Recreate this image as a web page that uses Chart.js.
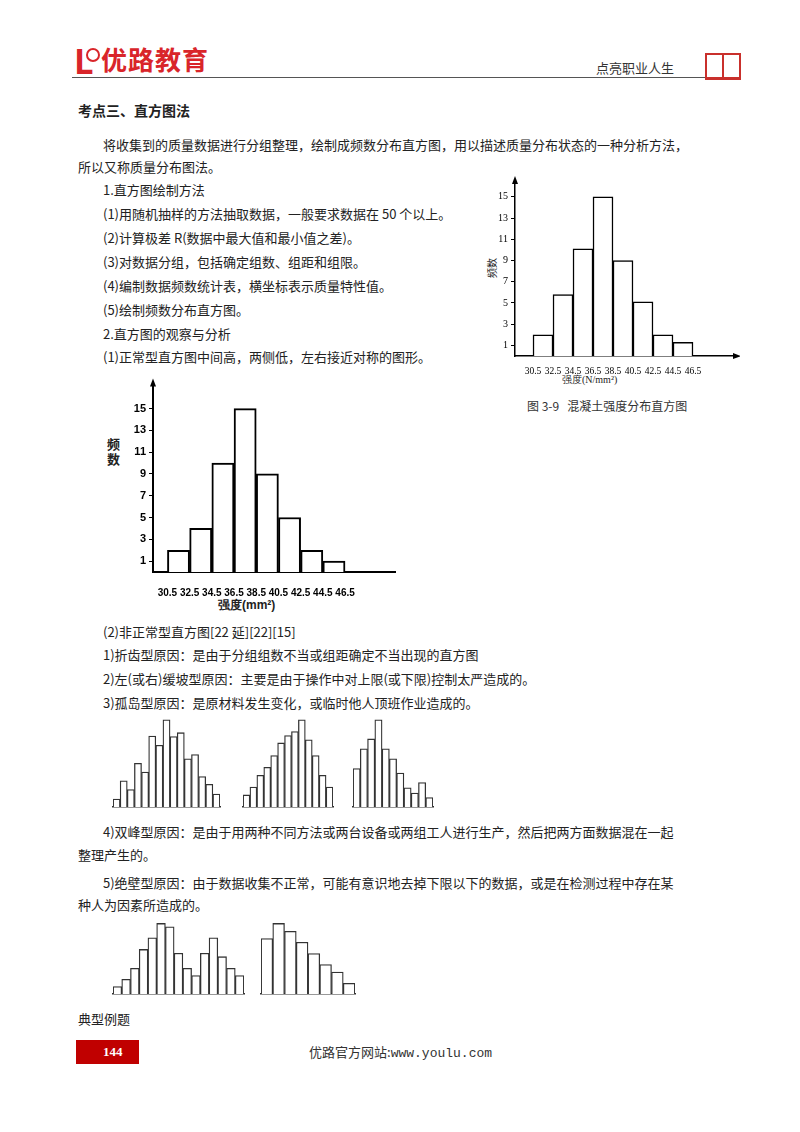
<!DOCTYPE html>
<html>
<head>
<meta charset="utf-8">
<script src="https://cdn.jsdelivr.net/npm/chart.js@4"></script>
<style>
body { margin: 0; background: #fff; font-family: "Noto Sans CJK SC", sans-serif; color: #222; }
#page { position: relative; width: 800px; height: 1132px; overflow: hidden; }
.t { position: absolute; font-size: 13px; line-height: 16px; white-space: nowrap; }
.box { position: absolute; }
</style>
</head>
<body>
<div id="page">
  <!-- header -->
  <div class="t" style="left:74px;top:42px;font-size:34px;line-height:36px;color:#d9252a;font-weight:bold;">L</div>
  <div class="box" style="left:86px;top:48px;width:10px;height:10px;border-radius:50%;border:2px solid #d9252a;"></div>
  <div class="t" style="left:101px;top:44px;font-size:26px;line-height:30px;color:#d9252a;font-weight:bold;letter-spacing:1px;">优路教育</div>
  <div class="box" style="left:72px;top:77px;width:660px;height:1px;background:#555;"></div>
  <div class="t" style="left:596px;top:60px;font-size:13px;color:#333;">点亮职业人生</div>
  <div class="box" style="left:705px;top:53px;width:15px;height:22px;border:2px solid #c9302c;border-bottom-width:3px;"></div>
  <div class="box" style="left:722px;top:53px;width:15px;height:22px;border:2px solid #c9302c;border-bottom-width:3px;"></div>

  <div class="t" style="left:78px;top:102px;font-weight:bold;font-size:14px;">考点三、直方图法</div>
  <div class="t" style="left:103px;top:137px;">将收集到的质量数据进行分组整理，绘制成频数分布直方图，用以描述质量分布状态的一种分析方法，</div>
  <div class="t" style="left:78px;top:159px;">所以又称质量分布图法。</div>
  <div class="t" style="left:103px;top:182px;">1.直方图绘制方法</div>
  <div class="t" style="left:103px;top:206px;">(1)用随机抽样的方法抽取数据，一般要求数据在 50 个以上。</div>
  <div class="t" style="left:103px;top:230px;">(2)计算极差 R(数据中最大值和最小值之差)。</div>
  <div class="t" style="left:103px;top:254px;">(3)对数据分组，包括确定组数、组距和组限。</div>
  <div class="t" style="left:103px;top:278px;">(4)编制数据频数统计表，横坐标表示质量特性值。</div>
  <div class="t" style="left:103px;top:302px;">(5)绘制频数分布直方图。</div>
  <div class="t" style="left:103px;top:326px;">2.直方图的观察与分析</div>
  <div class="t" style="left:103px;top:349px;">(1)正常型直方图中间高，两侧低，左右接近对称的图形。</div>

  <!-- right chart labels -->
  <div class="t" style="left:482px;top:263px;font-size:10px;line-height:10px;transform:rotate(-90deg);">频数</div>
  <div class="t" style="left:562px;top:374px;font-size:10px;line-height:12px;font-family:'Liberation Serif',serif;">强度(N/mm²)</div>
  <div class="t" style="left:527px;top:398px;font-size:12px;color:#333;">图 3-9&nbsp;&nbsp;&nbsp;混凝土强度分布直方图</div>

  <!-- main chart labels -->
  <div class="t" style="left:107px;top:436px;font-size:13px;line-height:15px;font-weight:bold;width:14px;white-space:normal;">频数</div>
  <div class="t" style="left:218px;top:597px;font-size:12px;font-weight:bold;font-family:'Liberation Sans',sans-serif;">强度(mm²)</div>

  <div class="t" style="left:103px;top:624px;">(2)非正常型直方图[22 延][22][15]</div>
  <div class="t" style="left:103px;top:647px;">1)折齿型原因：是由于分组组数不当或组距确定不当出现的直方图</div>
  <div class="t" style="left:103px;top:671px;">2)左(或右)缓坡型原因：主要是由于操作中对上限(或下限)控制太严造成的。</div>
  <div class="t" style="left:103px;top:695px;">3)孤岛型原因：是原材料发生变化，或临时他人顶班作业造成的。</div>
  <div class="t" style="left:103px;top:824px;">4)双峰型原因：是由于用两种不同方法或两台设备或两组工人进行生产，然后把两方面数据混在一起</div>
  <div class="t" style="left:78px;top:847px;">整理产生的。</div>
  <div class="t" style="left:103px;top:875px;">5)绝壁型原因：由于数据收集不正常，可能有意识地去掉下限以下的数据，或是在检测过程中存在某</div>
  <div class="t" style="left:78px;top:897px;">种人为因素所造成的。</div>
  <div class="t" style="left:78px;top:1011px;">典型例题</div>

  <!-- footer -->
  <div class="box" style="left:76px;top:1040px;width:63px;height:24px;background:#c00000;"></div>
  <div class="t" style="left:103px;top:1044px;color:#fff;font-weight:bold;font-family:'Liberation Serif',serif;font-size:13px;z-index:2;">144</div>
  <div class="t" style="left:309px;top:1044px;color:#333;">优路官方网站:<span style="font-family:'Liberation Mono',monospace;">www.youlu.com</span></div>

  <div class="box" style="left:100px;top:375px;width:300px;height:240px;"><canvas id="main"></canvas></div>
  <div class="box" style="left:480px;top:173px;width:260px;height:205px;"><canvas id="right"></canvas></div>
  <div class="box" style="left:110px;top:718px;width:113px;height:97px;"><canvas id="hA"></canvas></div>
  <div class="box" style="left:240px;top:718px;width:96px;height:97px;"><canvas id="hB"></canvas></div>
  <div class="box" style="left:350px;top:718px;width:86px;height:97px;"><canvas id="hC"></canvas></div>
  <div class="box" style="left:110px;top:922px;width:137px;height:80px;"><canvas id="hD"></canvas></div>
  <div class="box" style="left:258px;top:922px;width:100px;height:80px;"><canvas id="hE"></canvas></div>
</div>
<script>
// bin edges and frequencies
const binEdges = [30.5, 32.5, 34.5, 36.5, 38.5, 40.5, 42.5, 44.5, 46.5];
const mainFreq = [2, 4, 10, 15, 9, 5, 2, 1];
const rightFreq = [2, 5.8, 10.1, 15, 9, 5.1, 2, 1.3];
// shapes of the abnormal histograms (relative heights)
const sawtooth = [2.3, 7.5, 5, 12.5, 10, 20.3, 17.7, 25, 20.2, 21.3, 13.8, 15, 8.7, 6.5, 3.7];
const skewed = [3.8, 6.3, 10, 12.5, 16.2, 20.2, 22.5, 23.8, 27.5, 21.2, 16.2, 10, 6.3];
const island = [11, 16.7, 19.5, 25, 16.7, 13.8, 9.7, 5.5, 4, 7, 2.7];
const twinPeak = [2.4, 4.7, 8.2, 14.2, 17.9, 22.5, 21.4, 13, 8.2, 5.9, 13, 17.9, 11.9, 8.2, 5.9];
const cliff = [17.7, 22.5, 20, 16.5, 12.9, 9.4, 7, 3.4];

const centers = binEdges.slice(0, -1).map((e, i) => (e + binEdges[i + 1]) / 2);

const arrows = {
  id: 'arrows',
  afterDraw(chart, args, opts) {
    const { ctx, chartArea: a } = chart;
    ctx.save();
    ctx.fillStyle = '#000';
    ctx.beginPath();
    ctx.moveTo(a.left, a.top - 6); ctx.lineTo(a.left - 3, a.top + 2); ctx.lineTo(a.left + 3, a.top + 2);
    ctx.fill();
    if (opts.right) {
      ctx.beginPath();
      ctx.moveTo(a.right + 6, a.bottom); ctx.lineTo(a.right - 2, a.bottom - 3); ctx.lineTo(a.right - 2, a.bottom + 3);
      ctx.fill();
    }
    ctx.restore();
  }
};

function histogram(id, freq, o) {
  new Chart(document.getElementById(id), {
    type: 'bar',
    data: { datasets: [{ data: centers.map((c, i) => ({ x: c, y: freq[i] })),
      backgroundColor: '#fff', borderColor: '#000', borderWidth: o.bw, barPercentage: 1, categoryPercentage: 1 }] },
    plugins: [arrows],
    options: {
      animation: false, responsive: true, maintainAspectRatio: false,
      layout: { padding: { top: 6, right: o.padRight } },
      plugins: { legend: { display: false }, tooltip: { enabled: false }, arrows: { right: o.arrowRight } },
      scales: {
        x: {
          type: 'linear', min: o.xmin, max: o.xmax, offset: false,
          afterBuildTicks: s => { s.ticks = binEdges.map(v => ({ value: v })); },
          afterFit: s => { s.height = o.xh; },
          grid: { display: false },
          border: { color: '#000', width: o.axisW },
          ticks: { color: '#000', font: o.xfont, padding: o.tickPad, maxRotation: 0, autoSkip: false, callback: v => v.toFixed(1) }
        },
        y: {
          min: 0, max: o.ymax,
          afterBuildTicks: s => { const t = []; for (let v = 1; v <= 15; v++) t.push({ value: v }); s.ticks = t; },
          afterFit: s => { s.width = o.yw; },
          grid: { drawOnChartArea: false, tickLength: 4, color: '#000' },
          border: { color: '#000', width: o.axisW },
          ticks: { color: '#000', font: o.font, padding: 3, callback: v => (v % 2 ? v : '') }
        }
      }
    }
  });
}

histogram('main', mainFreq, { xmin: 29.2, xmax: 51, ymax: 17.2, yw: 53, xh: 43, padRight: 5, bw: 2, axisW: 2,
  font: { family: 'Liberation Sans', size: 11, weight: 'bold' },
  xfont: { family: 'Liberation Sans', size: 10, weight: 'bold' }, tickPad: 7, arrowRight: false });
histogram('right', rightFreq, { xmin: 28.7, xmax: 50.7, ymax: 16.4, yw: 35, xh: 22, padRight: 5, bw: 1.5, axisW: 1.5,
  font: { family: 'Liberation Serif', size: 10 },
  xfont: { family: 'Liberation Serif', size: 9.5 }, tickPad: 2, arrowRight: true });

function shape(id, vals) {
  new Chart(document.getElementById(id), {
    type: 'bar',
    data: { labels: vals.map((v, i) => i), datasets: [{ data: vals, backgroundColor: '#fff', borderColor: '#333',
      borderWidth: 1.3, barPercentage: 1, categoryPercentage: 1 }] },
    options: {
      animation: false, responsive: true, maintainAspectRatio: false,
      layout: { padding: { left: 3, right: 3 } },
      plugins: { legend: { display: false }, tooltip: { enabled: false } },
      scales: {
        x: { grid: { display: false }, ticks: { display: false }, border: { color: '#333', width: 1.5 } },
        y: { display: false, min: 0, max: Math.max(...vals) * 1.02 }
      }
    }
  });
}
shape('hA', sawtooth);
shape('hB', skewed);
shape('hC', island);
shape('hD', twinPeak);
shape('hE', cliff);
</script>
</body>
</html>
